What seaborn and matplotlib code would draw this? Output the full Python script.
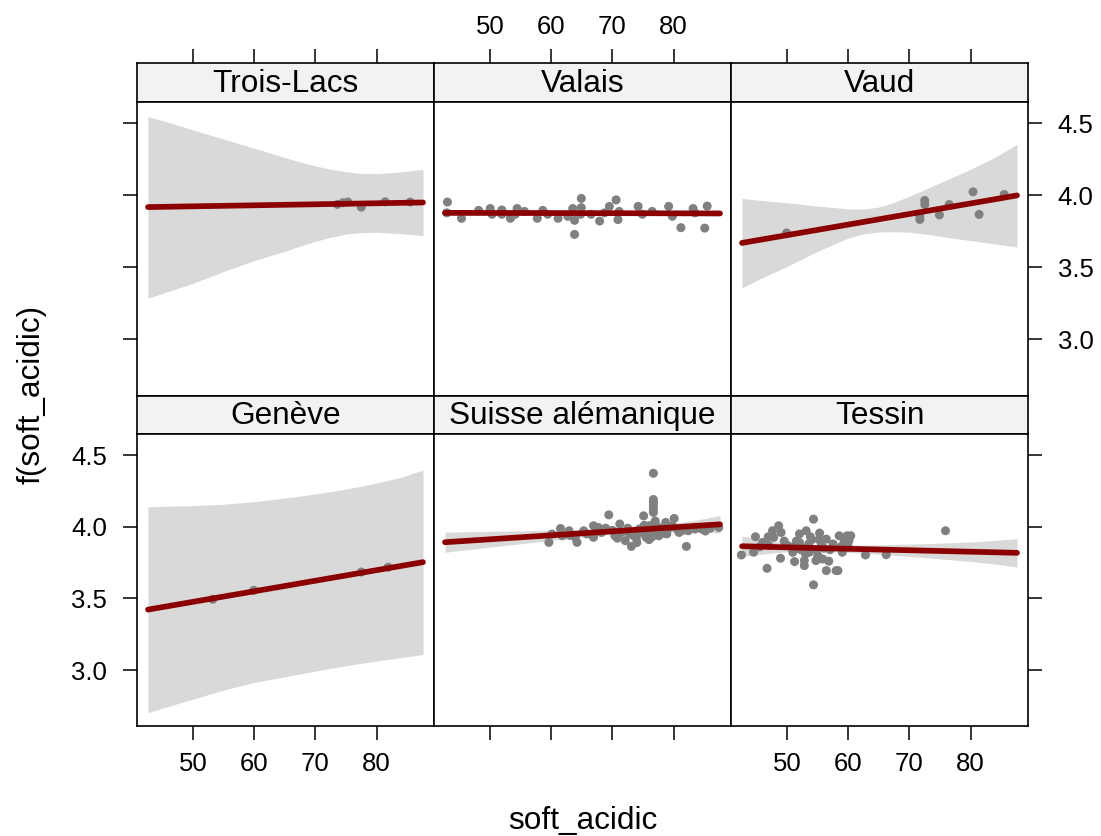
import matplotlib
matplotlib.use("Agg")
import matplotlib.pyplot as plt
import seaborn as sns

# panel order as in the lattice layout (top row, then bottom row)
panel_names = ["Trois-Lacs", "Valais", "Vaud", "Genève", "Suisse alémanique", "Tessin"]

x_ticks = [50, 60, 70, 80]
y_ticks = [3.0, 3.5, 4.0, 4.5]
y_tick_labels = ["3.0", "3.5", "4.0", "4.5"]

# x grid of the confidence band and the ends of the fitted line
band_x = [42.6, 45, 50, 55, 60, 62.5, 65, 67.5, 70, 72.5, 75, 77.5, 80, 84, 87.6]
fit_x = [42.6, 87.6]

# Trois-Lacs
trois_x = [73.6, 74.5, 75.3, 77.5, 81.4, 85.5]
trois_y = [3.938, 3.949, 3.954, 3.919, 3.956, 3.954]
trois_fit = [3.919, 3.951]
trois_lo = [3.286, 3.320, 3.390, 3.472, 3.547, 3.580, 3.612, 3.648, 3.681, 3.710, 3.732, 3.742, 3.744, 3.734, 3.721]
trois_hi = [4.547, 4.520, 4.454, 4.391, 4.328, 4.296, 4.263, 4.232, 4.205, 4.182, 4.165, 4.153, 4.151, 4.163, 4.182]

# Valais
valais_x = [43.0, 42.9, 45.3, 48.1, 50.0, 50.3, 51.9, 51.9, 53.3, 54.4, 54.1, 55.6, 57.7, 58.6,
            59.4, 61.1, 62.7, 63.5, 63.8, 63.8, 64.9, 64.9, 64.8, 66.5, 67.9, 68.7, 69.5, 70.6,
            71.1, 70.9, 74.2, 74.9, 76.5, 79.2, 79.8, 81.2, 83.2, 83.5, 85.1, 85.5]
valais_y = [3.954, 3.879, 3.841, 3.896, 3.909, 3.869, 3.899, 3.869, 3.841, 3.909, 3.869, 3.889, 3.841, 3.896,
            3.869, 3.841, 3.855, 3.909, 3.827, 3.729, 3.979, 3.915, 3.869, 3.869, 3.822, 3.879, 3.924, 3.969,
            3.889, 3.832, 3.924, 3.869, 3.889, 3.924, 3.855, 3.776, 3.909, 3.879, 3.773, 3.926]
valais_fit = [3.879, 3.875]
valais_lo = [3.860, 3.862, 3.864, 3.867, 3.868, 3.868, 3.868, 3.868, 3.867, 3.866, 3.865, 3.864, 3.862, 3.860, 3.857]
valais_hi = [3.898, 3.896, 3.892, 3.889, 3.886, 3.885, 3.884, 3.884, 3.883, 3.883, 3.883, 3.883, 3.884, 3.888, 3.893]

# Vaud
vaud_x = [49.9, 71.7, 71.7, 72.5, 72.5, 74.9, 76.5, 80.4, 81.4, 85.5]
vaud_y = [3.739, 3.833, 3.856, 3.965, 3.937, 3.865, 3.937, 4.025, 3.868, 4.007]
vaud_fit = [3.670, 4.000]
vaud_lo = [3.356, 3.410, 3.507, 3.612, 3.704, 3.733, 3.746, 3.748, 3.744, 3.732, 3.716, 3.701, 3.686, 3.663, 3.642]
vaud_hi = [3.979, 3.968, 3.949, 3.926, 3.907, 3.905, 3.919, 3.952, 3.995, 4.040, 4.088, 4.135, 4.182, 4.265, 4.356]

# Genève
geneve_x = [53.2, 59.9, 77.5, 81.9]
geneve_y = [3.494, 3.556, 3.684, 3.718]
geneve_fit = [3.422, 3.753]
geneve_lo = [2.703, 2.735, 2.798, 2.861, 2.914, 2.934, 2.953, 2.973, 2.993, 3.012, 3.030, 3.047, 3.063, 3.087, 3.109]
geneve_hi = [4.140, 4.142, 4.147, 4.157, 4.175, 4.187, 4.201, 4.214, 4.229, 4.245, 4.263, 4.283, 4.305, 4.345, 4.396]

# Suisse alémanique
alem_x = [76.7, 76.7, 76.7, 76.7, 76.7, 76.7, 69.4, 75.1, 80.1, 59.6, 60.1, 61.5, 61.8, 62.9,
          64.2, 63.9, 65.3, 66.9, 66.9, 67.7, 68.2, 70.4, 71.2, 71.5, 72.1, 73.1, 73.5, 74.4,
          75.5, 76.0, 76.0, 76.8, 77.6, 78.1, 78.7, 79.8, 80.9, 82.1, 82.4, 83.5, 84.6, 87.4,
          68.9, 70.0, 72.8, 73.9, 74.8, 75.8, 76.3, 77.1, 77.4, 78.4, 79.2, 80.5, 81.5, 65.8,
          63.0, 70.8, 72.5, 74.0, 76.5, 77.0, 75.2, 78.9, 86.0, 85.2]
alem_y = [4.373, 4.190, 4.170, 4.146, 4.123, 4.100, 4.083, 4.076, 4.058, 3.891, 3.949, 3.988, 3.937, 3.972,
          3.891, 3.926, 3.972, 4.007, 3.926, 3.995, 3.960, 3.937, 4.019, 3.960, 3.903, 3.863, 3.937, 3.984,
          3.926, 4.007, 3.910, 4.019, 3.937, 3.984, 4.030, 4.007, 3.960, 3.863, 3.972, 3.984, 3.984, 3.995,
          3.990, 3.975, 3.950, 3.920, 3.960, 3.950, 3.990, 3.970, 4.000, 3.955, 3.990, 3.985, 3.975, 3.950,
          3.940, 3.920, 3.990, 3.890, 3.930, 4.040, 4.010, 3.950, 3.990, 3.970]
alem_fit = [3.892, 4.017]
alem_lo = [3.822, 3.834, 3.858, 3.881, 3.905, 3.916, 3.927, 3.937, 3.946, 3.954, 3.960, 3.965, 3.968, 3.965, 3.955]
alem_hi = [3.962, 3.964, 3.968, 3.971, 3.975, 3.978, 3.981, 3.985, 3.990, 3.996, 4.004, 4.013, 4.024, 4.048, 4.079]

# Tessin
tessin_x = [42.5, 44.5, 44.8, 46.0, 46.7, 46.9, 47.6, 48.6, 49.0, 48.9, 47.8, 50.1, 50.9, 51.2,
            52.0, 52.8, 52.8, 53.1, 53.6, 52.5, 54.3, 54.3, 54.7, 55.3, 55.6, 55.8, 56.4, 56.4,
            58.0, 58.3, 58.5, 59.3, 59.8, 60.4, 60.1, 59.0, 62.8, 66.2, 75.9, 51.5, 52.2, 53.5,
            54.0, 54.8, 55.0, 56.0, 57.0, 57.5, 58.8, 60.0, 53.0, 51.0, 49.5, 45.5, 47.0, 56.8,
            55.2, 53.8, 52.0]
tessin_y = [3.803, 3.822, 3.930, 3.891, 3.710, 3.930, 3.972, 4.007, 3.960, 3.780, 3.926, 3.868, 3.822, 3.757,
            3.891, 3.764, 3.729, 3.972, 3.822, 3.850, 4.053, 3.595, 3.764, 3.956, 3.868, 3.775, 3.914, 3.694,
            3.694, 3.694, 3.937, 3.891, 3.937, 3.937, 3.903, 3.822, 3.803, 3.805, 3.972, 3.900, 3.840, 3.880,
            3.910, 3.840, 3.800, 3.850, 3.840, 3.880, 3.860, 3.860, 3.810, 3.860, 3.900, 3.860, 3.870, 3.760,
            3.910, 3.930, 3.950]
tessin_fit = [3.864, 3.818]
tessin_lo = [3.792, 3.805, 3.826, 3.829, 3.821, 3.815, 3.808, 3.801, 3.793, 3.785, 3.776, 3.767, 3.758, 3.740, 3.719]
tessin_hi = [3.936, 3.915, 3.886, 3.873, 3.871, 3.872, 3.874, 3.876, 3.879, 3.882, 3.886, 3.890, 3.894, 3.905, 3.917]

panel_pts = [(trois_x, trois_y), (valais_x, valais_y), (vaud_x, vaud_y),
             (geneve_x, geneve_y), (alem_x, alem_y), (tessin_x, tessin_y)]
panel_fit = [trois_fit, valais_fit, vaud_fit, geneve_fit, alem_fit, tessin_fit]
panel_band = [(trois_lo, trois_hi), (valais_lo, valais_hi), (vaud_lo, vaud_hi),
              (geneve_lo, geneve_hi), (alem_lo, alem_hi), (tessin_lo, tessin_hi)]

sns.set_theme(style="white")
plt.rcParams["font.family"] = ["Liberation Sans", "DejaVu Sans"]
plt.rcParams["text.color"] = "black"
plt.rcParams["xtick.color"] = "black"
plt.rcParams["ytick.color"] = "black"
plt.rcParams["xtick.labelcolor"] = "black"
plt.rcParams["ytick.labelcolor"] = "black"

W, H = 1101, 836
fig = plt.figure(figsize=(W / 100, H / 100), dpi=100)


def box(x0, y0, x1, y1):
    # pixel box -> figure fraction rect
    return [x0 / W, 1 - y1 / H, (x1 - x0) / W, (y1 - y0) / H]


col_edges = [137, 434, 731, 1028]
strip_rows = [(63.3, 102.3), (395.5, 434)]
panel_rows = [(102.3, 395.5), (434, 726)]
xlim = (40.8, 89.4)
ylim = (2.61, 4.647)
tick_kw = dict(direction="out", length=10.4, width=1.1, color="black", labelsize=18.5)

for i, name in enumerate(panel_names):
    r, c = divmod(i, 3)
    x0, x1 = col_edges[c], col_edges[c + 1]

    # strip
    sax = fig.add_axes(box(x0, strip_rows[r][0], x1, strip_rows[r][1]))
    sax.set_facecolor("#f2f2f2")
    sax.set_xlim(*xlim)
    sax.set_ylim(0, 1)
    sax.set_yticks([])
    sax.text(0.5, 0.47, name, transform=sax.transAxes, ha="center", va="center",
             fontsize=22.7, color="black")
    for sp in sax.spines.values():
        sp.set_linewidth(1.2)
        sp.set_color("black")
    if r == 0:
        sax.xaxis.set_ticks_position("top")
        sax.set_xticks(x_ticks)
        sax.tick_params(axis="x", pad=7, **tick_kw)
        if c == 1:
            sax.set_xticklabels([str(t) for t in x_ticks])
        else:
            sax.set_xticklabels([])
    else:
        sax.set_xticks([])

    # panel
    ax = fig.add_axes(box(x0, panel_rows[r][0], x1, panel_rows[r][1]))
    lo, hi = panel_band[i]
    ax.fill_between(band_x, lo, hi, color="#d9d9d9", lw=0, zorder=1)
    px, py = panel_pts[i]
    sns.scatterplot(x=px, y=py, ax=ax, color="#808080", s=42, edgecolor="none",
                    linewidth=0, zorder=2, legend=False)
    sns.lineplot(x=fit_x, y=panel_fit[i], ax=ax, color="#8b0000", lw=4.1,
                 solid_capstyle="round", zorder=3, legend=False)
    ax.set_xlim(*xlim)
    ax.set_ylim(*ylim)
    ax.set_xlabel("")
    ax.set_ylabel("")
    for sp in ax.spines.values():
        sp.set_linewidth(1.2)
        sp.set_color("black")

    # x ticks on the bottom row only
    if r == 1:
        ax.set_xticks(x_ticks)
        ax.tick_params(axis="x", bottom=True, pad=8, **tick_kw)
        if c == 1:
            ax.set_xticklabels([])
        else:
            ax.set_xticklabels([str(t) for t in x_ticks])
    else:
        ax.set_xticks([])

    # y ticks: left column and right column, alternating labels
    if c == 0:
        ax.set_yticks(y_ticks)
        ax.tick_params(axis="y", left=True, pad=11, **tick_kw)
        ax.set_yticklabels(y_tick_labels if r == 1 else [])
    elif c == 2:
        ax.yaxis.set_ticks_position("right")
        ax.set_yticks(y_ticks)
        ax.tick_params(axis="y", right=True, pad=11, **tick_kw)
        ax.set_yticklabels(y_tick_labels if r == 0 else [])
    else:
        ax.set_yticks([])

fig.text(582.5 / W, 1 - 821 / H, "soft_acidic", ha="center", va="center",
         fontsize=22.7, color="black")
fig.text(32 / W, 1 - 394.5 / H, "f(soft_acidic)", ha="center", va="center",
         rotation=90, fontsize=22.7, color="black")

fig.savefig("out.png", dpi=100)
